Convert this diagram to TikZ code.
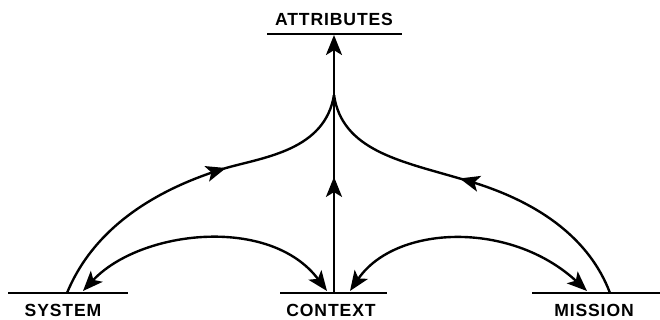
\documentclass[tikz,border=0pt]{standalone}
\usepackage{fontspec}
\newfontfamily\lblfont{Liberation Sans}[LetterSpace=5]
\usetikzlibrary{arrows.meta,positioning,decorations.markings}
\definecolor{ink}{RGB}{0,0,0}
\tikzset{
  >={Stealth[length=5mm,width=4mm,inset=1.2mm]},
  tag/.style={font=\lblfont\bfseries\fontsize{12.5}{14}\selectfont,text=ink,inner sep=0pt},
  bar/.style={draw=ink,line width=2pt},
  flow/.style={draw=ink,line width=1.7pt},
  mid arrow/.style={postaction={decorate},
    decoration={markings,mark=at position #1 with {\arrow{>}}}},
}

\begin{document}
\begin{tikzpicture}[x=0.025cm,y=-0.025cm]
  \useasboundingbox (0,0) rectangle (660,320);
  % labels
  \node[tag] (attr) at (334,19) {ATTRIBUTES};
  \node[tag] (sys) at (63,310) {SYSTEM};
  \node[tag] (ctx) at (331,310) {CONTEXT};
  \node[tag] (mis) at (594,310) {MISSION};
  % bars
  \draw[bar] (267,34) -- (402,34);
  \draw[bar] (8,293) -- (128,293);
  \draw[bar] (280,293) -- (387,293);
  \draw[bar] (532,293) -- (660,293);
  % anchor points
  \coordinate (attB) at (334,35);
  \coordinate (ctxU) at (334,293);
  \coordinate (ctxL) at (327,291);
  \coordinate (ctxR) at (350,291);
  \coordinate (sysU) at (67,293);
  \coordinate (sysR) at (83,291);
  \coordinate (misU) at (610,293);
  \coordinate (misL) at (587,291);
  \coordinate (join) at (334,95);
  % vertical
  \draw[flow,->,mid arrow=0.45] (ctxU) -- (attB);
  % upper curves
  \draw[flow,mid arrow=0.6] (sysU) .. controls (95,225) and (160,188) .. (226,168)
    .. controls (265,157) and (325,150) .. (join);
  \draw[flow,mid arrow=0.55] (misU) .. controls (590,240) and (540,200) .. (458,178)
    .. controls (400,161) and (342,150) .. (join);
  % lower arcs
  \draw[flow,<->] (sysR) .. controls (140,230) and (270,215) .. (ctxL);
  \draw[flow,<->] (ctxR) .. controls (395,225) and (510,220) .. (misL);
\end{tikzpicture}
\end{document}
